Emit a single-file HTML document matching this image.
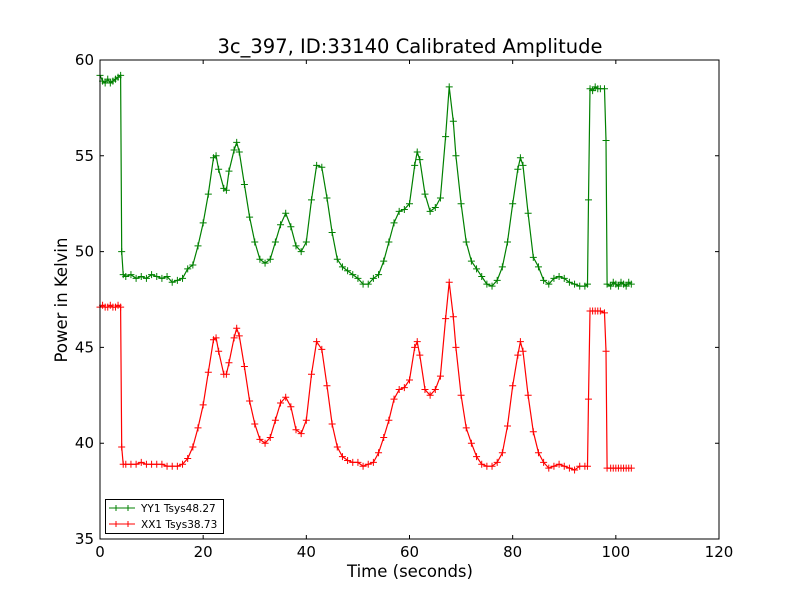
<!DOCTYPE html>
<html><head><meta charset="utf-8"><style>
body{margin:0;background:#fff;}
svg{display:block;font-family:"DejaVu Sans","Liberation Sans",sans-serif;}
</style></head><body>
<svg id="chart" width="800" height="600" xmlns="http://www.w3.org/2000/svg">
<rect width="800" height="600" fill="#fff"/>
<text x="410" y="53" font-size="19.5" text-anchor="middle">3c_397, ID:33140 Calibrated Amplitude</text>
<g id="ticks"></g>
<g id="series"></g>
<rect x="100" y="60" width="619" height="479" fill="none" stroke="#000" stroke-width="1"/>
<text x="410" y="577" font-size="16.5" text-anchor="middle">Time (seconds)</text>
<text transform="translate(67,300) rotate(-90)" font-size="16.5" text-anchor="middle">Power in Kelvin</text>
<g>
<rect x="105.5" y="499.5" width="118" height="34" fill="#fff" stroke="#000"/>
<g>
<line x1="109" y1="508" x2="135" y2="508" stroke="#008000"/>
<path d="M113 508h6M116 505v6M125 508h6M128 505v6" stroke="#008000"/>
<text x="141" y="512" font-size="10.5">YY1 Tsys48.27</text></g>
<g>
<line x1="109" y1="524" x2="135" y2="524" stroke="#f00"/>
<path d="M113 524h6M116 521v6M125 524h6M128 521v6" stroke="#f00"/>
<text x="141" y="528" font-size="10.5">XX1 Tsys38.73</text></g>
</g>
</svg>
<script>
const xTicks=[0,20,40,60,80,100,120];
const yTicks=[35,40,45,50,55,60];
const times=[0,0.5,1,1.5,2,2.5,3,3.5,4,4.2,4.5,5,6,7,8,9,10,11,12,13,14,15,16,17,18,19,20,21,22,22.5,23,24,24.5,25,26,26.5,27,28,29,30,31,32,33,34,35,36,37,38,39,40,41,42,43,44,45,46,47,48,49,50,51,52,53,54,55,56,57,58,59,60,61,61.5,62,63,64,65,66,67,67.7,68.5,69,70,71,72,73,74,75,76,77,78,79,80,81,81.5,82,83,84,85,86,87,88,89,90,91,92,93,94,94.5,94.7,95,95.5,96,96.5,97,97.8,98.1,98.3,99,99.5,100,100.5,101,101.5,102,102.5,103];
const yy1=[59.2,58.9,58.8,59.0,58.8,58.9,59.0,59.1,59.2,50.0,48.8,48.7,48.8,48.6,48.7,48.6,48.8,48.7,48.6,48.7,48.4,48.5,48.6,49.1,49.3,50.3,51.5,53.0,54.9,55.0,54.3,53.3,53.2,54.2,55.3,55.7,55.2,53.5,51.8,50.5,49.6,49.4,49.6,50.5,51.4,52.0,51.3,50.3,50.0,50.5,52.7,54.5,54.4,52.8,51.0,49.6,49.2,49.0,48.8,48.6,48.3,48.3,48.6,48.8,49.5,50.5,51.5,52.1,52.2,52.5,54.5,55.2,54.8,53.0,52.1,52.3,52.8,56.0,58.6,56.8,55.0,52.5,50.5,49.5,49.1,48.7,48.3,48.2,48.5,49.2,50.5,52.5,54.3,54.9,54.5,52.0,49.7,49.2,48.5,48.3,48.6,48.7,48.6,48.4,48.3,48.2,48.2,48.3,52.7,58.5,58.4,58.6,58.5,58.5,58.5,55.8,48.3,48.2,48.4,48.3,48.2,48.4,48.3,48.2,48.4,48.3];
const xx1=[47.1,47.2,47.1,47.1,47.2,47.1,47.1,47.2,47.1,39.8,38.9,38.9,38.9,38.9,39.0,38.9,38.9,38.9,38.9,38.8,38.8,38.8,38.9,39.2,39.8,40.8,42.0,43.7,45.4,45.5,44.8,43.6,43.6,44.2,45.5,46.0,45.6,44.0,42.2,41.0,40.2,40.0,40.3,41.2,42.1,42.4,41.9,40.7,40.5,41.2,43.6,45.3,44.9,43.0,41.0,39.8,39.3,39.1,39.0,39.0,38.8,38.9,39.0,39.5,40.3,41.2,42.3,42.8,42.9,43.3,45.0,45.3,44.6,42.8,42.5,42.8,43.5,46.5,48.4,46.6,45.0,42.5,40.8,40.0,39.3,38.9,38.8,38.8,39.0,39.5,40.9,43.0,44.6,45.3,44.8,42.5,40.6,39.5,39.0,38.7,38.8,38.9,38.8,38.7,38.6,38.8,38.8,38.8,42.3,46.9,46.9,46.9,46.9,46.9,46.8,44.8,38.7,38.7,38.7,38.7,38.7,38.7,38.7,38.7,38.7,38.7];
const NS='http://www.w3.org/2000/svg';
const X=t=>100+t*619/120, Y=v=>539-(v-35)*479/25;
const tg=document.getElementById('ticks'), sg=document.getElementById('series');
function mk(tag,attrs,parent){const e=document.createElementNS(NS,tag);for(const k in attrs)e.setAttribute(k,attrs[k]);parent.appendChild(e);return e;}
xTicks.forEach(t=>{const x=X(t);
 const g=mk('g',{},tg);
 
 
 mk('path',{d:`M${x} 539v-4M${x} 60v4`,stroke:'#000'},g);
 const tx=mk('text',{x:x,y:557,'font-size':15,'text-anchor':'middle'},g);tx.textContent=t;});
yTicks.forEach(v=>{const y=Y(v);
 const g=mk('g',{},tg);
 
 
 mk('path',{d:`M100 ${y}h4M719 ${y}h-4`,stroke:'#000'},g);
 const tx=mk('text',{x:94,y:y+5,'font-size':15,'text-anchor':'end'},g);tx.textContent=v;});
function draw(vals,color,name){
 const g=mk('g',{},sg);
 
 
 const pts=times.map((t,i)=>X(t).toFixed(1)+','+Y(vals[i]).toFixed(1)).join(' ');
 mk('polyline',{points:pts,fill:'none',stroke:color,'stroke-width':1.2},g);
 let d='';times.forEach((t,i)=>{const x=X(t),y=Y(vals[i]);d+=`M${x-3.5} ${y}h7M${x} ${y-3.5}v7`;});
 mk('path',{d:d,stroke:color,'stroke-width':1},g);
}
draw(yy1,'#008000','series-yy1');
draw(xx1,'#ff0000','series-xx1');
</script>
</body></html>
